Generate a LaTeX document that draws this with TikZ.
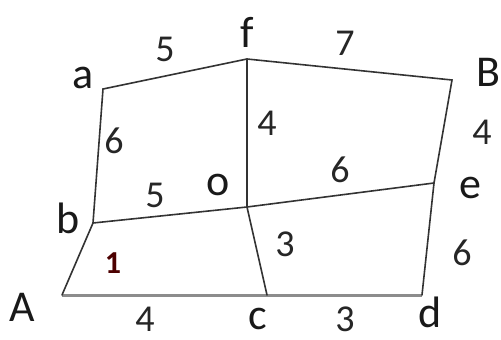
\documentclass[tikz,border=0pt]{standalone}
\usepackage{fontspec}
\setmainfont{Carlito}
\usepackage{tikz}

\begin{document}
\begin{tikzpicture}[x=1pt,y=-1pt,
  edge/.style={line width=1.6pt,black!80,line cap=round},
  base/.style={line width=3pt,black!45},
  vlabel/.style={font=\fontsize{44}{44}\selectfont,text=black!90,inner sep=0pt},
  wlabel/.style={font=\fontsize{38}{38}\selectfont,text=black!85,inner sep=0pt}]
\useasboundingbox (0,0) rectangle (501,340);
% vertices
\coordinate (a) at (103,89);
\coordinate (f) at (247,59);
\coordinate (B) at (452,80);
\coordinate (b) at (93,223);
\coordinate (o) at (247,207);
\coordinate (e) at (434,183);
\coordinate (A) at (62,295);
\coordinate (c) at (267,295);
\coordinate (d) at (422,295);
% edges
\draw[base] (A) -- (c) -- (d);
\draw[edge] (b) -- (a) -- (f) -- (B) -- (e) -- (d);
\draw[edge] (A) -- (b) -- (o) -- (e);
\draw[edge] (f) -- (o) -- (c);
% vertex labels
\foreach \p/\x/\y in {a/83/78,f/247/32,B/488/72,b/68/218,o/218/185,e/470/188,A/22/307,c/258/319,d/430/312}
  {\node[vlabel] (l\p) at (\x,\y) {\p};}
% weights
\foreach \n/\w/\x/\y in {af/5/165/49,fB/7/345/43,ab/6/114/141,fo/4/267/123,Be/4/482/132,bo/5/155/195,oe/6/340/170,oc/3/285/244,ed/6/462/253,Ac/4/145/319,cd/3/345/319}
  {\node[wlabel] (w\n) at (\x,\y) {\w};}
\node[font=\rmfamily\bfseries\fontsize{32}{32}\selectfont,text=red!30!black,inner sep=0pt] (wAb) at (113,263) {1};
\end{tikzpicture}
\end{document}
